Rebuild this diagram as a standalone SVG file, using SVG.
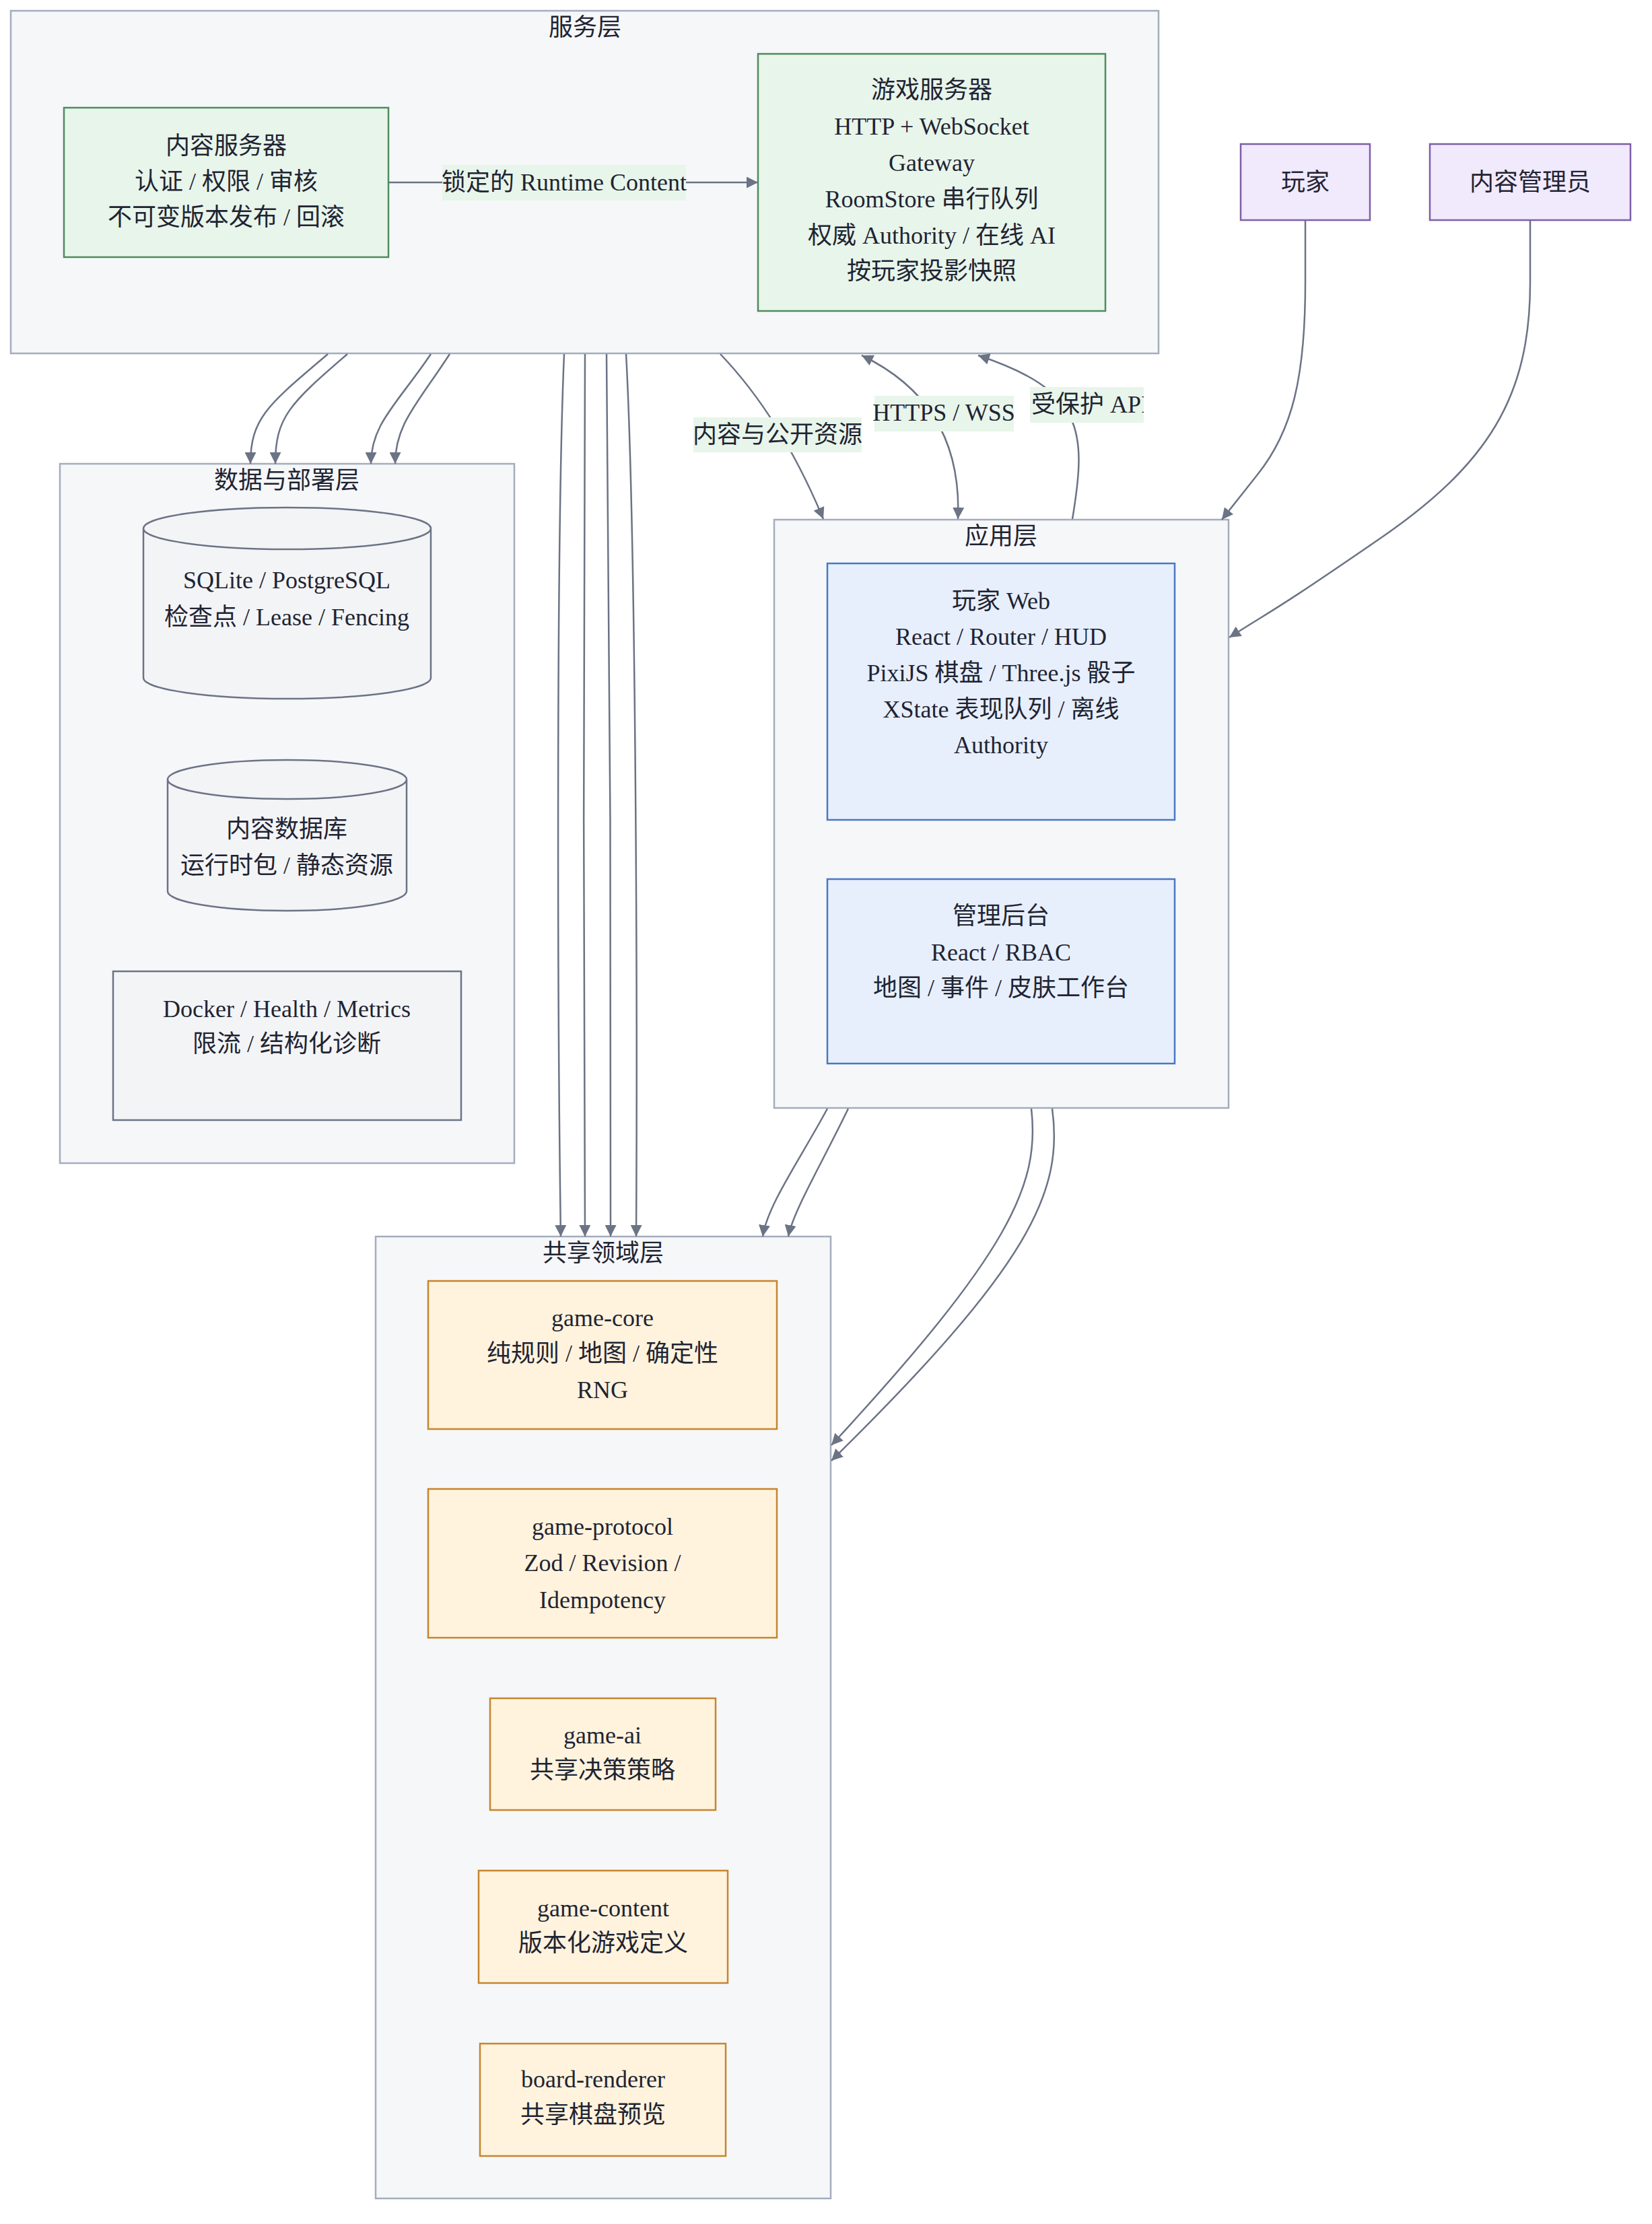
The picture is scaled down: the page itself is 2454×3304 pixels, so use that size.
<svg xmlns="http://www.w3.org/2000/svg" width="2454" height="3304" viewBox="0 0 2454 3304">
<style>
text{font-family:"Liberation Serif","Noto Sans CJK SC",serif;font-size:36px;fill:#1f2433;text-anchor:middle}
.cluster{fill:#f6f7f9;stroke:#a3adbd;stroke-width:2.5}
.green{fill:#e8f5ea;stroke:#4e8c5e;stroke-width:2.5}
.blue{fill:#e7effc;stroke:#4a77c4;stroke-width:2.5}
.orange{fill:#fff3dd;stroke:#c5852f;stroke-width:2.5}
.purple{fill:#f1e9fc;stroke:#7d5fa8;stroke-width:2.5}
.infra{fill:#f3f4f6;stroke:#6b7385;stroke-width:2.5}
.edge{fill:none;stroke:#6b7385;stroke-width:2.5;marker-end:url(#arrow)}
.lbl{fill:#e8f5ea}
</style>
<defs>
<marker id="arrow" viewBox="0 0 10 10" refX="10" refY="5" markerUnits="userSpaceOnUse" markerWidth="17" markerHeight="17" orient="auto-start-reverse">
<path d="M0,0 L10,5 L0,10 z" fill="#6b7385"/>
</marker>
<clipPath id="clipApi"><rect x="1530" y="575" width="169" height="53"/></clipPath>
</defs>
<rect width="2454" height="3304" fill="#ffffff"/>

<g id="cluster-service">
<rect class="cluster" x="16" y="16" width="1705" height="509"/>
<text x="869" y="53">服务层</text>
</g>
<g id="cluster-data">
<rect class="cluster" x="89" y="689" width="675" height="1039"/>
<text x="426" y="726">数据与部署层</text>
</g>
<g id="cluster-app">
<rect class="cluster" x="1150" y="772" width="675" height="874"/>
<text x="1487" y="809">应用层</text>
</g>
<g id="cluster-shared">
<rect class="cluster" x="558" y="1837" width="676" height="1429"/>
<text x="896" y="1874">共享领域层</text>
</g>

<g id="edges">
<path class="edge" d="M577,271 L1126,271"/>
<path class="edge" d="M487,526 C400,600 372,620 372,689"/>
<path class="edge" d="M516,526 C430,600 409,620 409,689"/>
<path class="edge" d="M640,526 C590,600 551,630 551,689"/>
<path class="edge" d="M668,526 C620,600 587,630 587,689"/>
<path class="edge" d="M838,526 C826,800 828,1500 833,1837"/>
<path class="edge" d="M869,526 C866,800 867,1500 869,1837"/>
<path class="edge" d="M901,526 C906,800 908,1500 907,1837"/>
<path class="edge" d="M930,526 C945,800 947,1500 945,1837"/>
<path class="edge" d="M1070,526 Q1160,620 1223,771"/>
<path class="edge" style="marker-start:url(#arrow)" d="M1280,528 Q1430,600 1423,771"/>
<path class="edge" d="M1593,771 C1615,640 1610,580 1453,528"/>
<path class="edge" d="M1939,328 L1939,420 C1939,560 1920,640 1868,705 L1815,772"/>
<path class="edge" d="M2273,328 L2273,420 C2273,590 2210,690 2050,800 S1900,900 1826,947"/>
<path class="edge" d="M1229,1647 C1190,1720 1140,1790 1133,1837"/>
<path class="edge" d="M1260,1647 C1220,1730 1178,1800 1171,1837"/>
<path class="edge" d="M1532,1647 C1545,1760 1500,1860 1235,2147"/>
<path class="edge" d="M1563,1647 C1580,1770 1530,1880 1235,2170"/>
</g>

<g id="edge-labels">
<g id="label-runtime">
<rect class="lbl" x="657" y="245" width="362" height="53"/>
<text x="838" y="283">锁定的 Runtime Content</text>
</g>
<g id="label-content">
<rect class="lbl" x="1030" y="620" width="250" height="52"/>
<text x="1155" y="658">内容与公开资源</text>
</g>
<g id="label-https">
<rect class="lbl" x="1299" y="588" width="207" height="53"/>
<text x="1402" y="625">HTTPS / WSS</text>
</g>
<g id="label-api">
<rect class="lbl" x="1530" y="575" width="169" height="53"/>
<text x="1532" y="613" style="text-anchor:start" clip-path="url(#clipApi)">受保护 API</text>
</g>
</g>

<g id="node-content-server">
<rect class="green" x="95" y="160" width="482" height="222"/>
<text x="336" y="229">内容服务器</text>
<text x="336" y="282">认证 / 权限 / 审核</text>
<text x="336" y="335">不可变版本发布 / 回滚</text>
</g>
<g id="node-game-server">
<rect class="green" x="1126" y="80" width="516" height="382"/>
<text x="1384" y="146">游戏服务器</text>
<text x="1384" y="200">HTTP + WebSocket</text>
<text x="1384" y="254">Gateway</text>
<text x="1384" y="308">RoomStore 串行队列</text>
<text x="1384" y="362">权威 Authority / 在线 AI</text>
<text x="1384" y="415">按玩家投影快照</text>
</g>
<g id="node-player">
<rect class="purple" x="1843" y="214" width="192" height="113"/>
<text x="1939" y="283">玩家</text>
</g>
<g id="node-admin">
<rect class="purple" x="2124" y="214" width="298" height="113"/>
<text x="2273" y="283">内容管理员</text>
</g>
<g id="node-player-web">
<rect class="blue" x="1229" y="837" width="516" height="381"/>
<text x="1487" y="905">玩家 Web</text>
<text x="1487" y="958">React / Router / HUD</text>
<text x="1487" y="1012">PixiJS 棋盘 / Three.js 骰子</text>
<text x="1487" y="1066">XState 表现队列 / 离线</text>
<text x="1487" y="1119">Authority</text>
</g>
<g id="node-admin-console">
<rect class="blue" x="1229" y="1306" width="516" height="274"/>
<text x="1487" y="1373">管理后台</text>
<text x="1487" y="1427">React / RBAC</text>
<text x="1487" y="1480">地图 / 事件 / 皮肤工作台</text>
</g>
<g id="node-db">
<path class="infra" d="M213,785 a213.5,31 0,0,0 427,0 a213.5,31 0,0,0 -427,0 l0,222 a213.5,31 0,0,0 427,0 l0,-222"/>
<text x="426" y="874">SQLite / PostgreSQL</text>
<text x="426" y="929">检查点 / Lease / Fencing</text>
</g>
<g id="node-content-db">
<path class="infra" d="M249,1158 a177.5,29 0,0,0 355,0 a177.5,29 0,0,0 -355,0 l0,166 a177.5,29 0,0,0 355,0 l0,-166"/>
<text x="426" y="1244">内容数据库</text>
<text x="426" y="1298">运行时包 / 静态资源</text>
</g>
<g id="node-ops">
<rect class="infra" x="168" y="1443" width="517" height="221"/>
<text x="426" y="1511">Docker / Health / Metrics</text>
<text x="426" y="1563">限流 / 结构化诊断</text>
</g>
<g id="node-game-core">
<rect class="orange" x="636" y="1903" width="518" height="220"/>
<text x="895" y="1970">game-core</text>
<text x="895" y="2023">纯规则 / 地图 / 确定性</text>
<text x="895" y="2077">RNG</text>
</g>
<g id="node-game-protocol">
<rect class="orange" x="636" y="2212" width="518" height="221"/>
<text x="895" y="2280">game-protocol</text>
<text x="895" y="2334">Zod / Revision /</text>
<text x="895" y="2389">Idempotency</text>
</g>
<g id="node-game-ai">
<rect class="orange" x="728" y="2523" width="335" height="166"/>
<text x="895" y="2590">game-ai</text>
<text x="895" y="2642">共享决策策略</text>
</g>
<g id="node-game-content">
<rect class="orange" x="711" y="2779" width="370" height="167"/>
<text x="896" y="2847">game-content</text>
<text x="896" y="2899">版本化游戏定义</text>
</g>
<g id="node-board-renderer">
<rect class="orange" x="713" y="3036" width="365" height="167"/>
<text x="881" y="3101">board-renderer</text>
<text x="881" y="3154">共享棋盘预览</text>
</g>
</svg>
